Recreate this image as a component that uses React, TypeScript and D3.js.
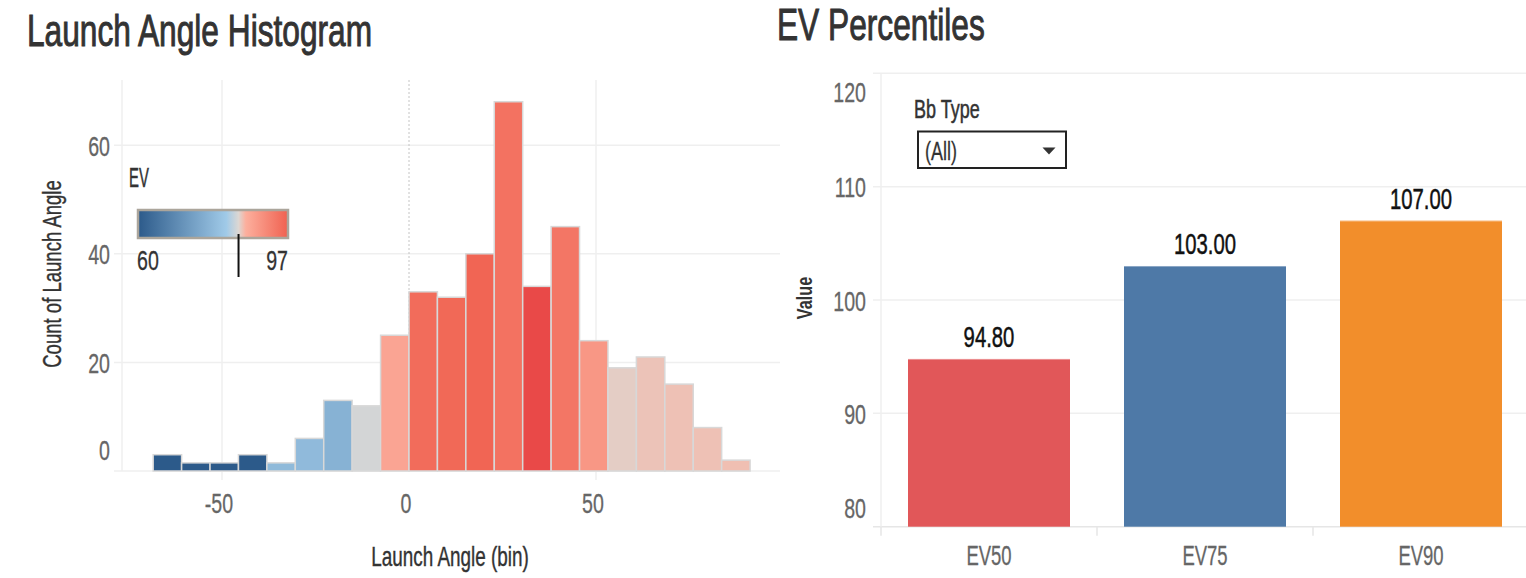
import { scaleLinear, scaleBand } from "d3";

// Launch angle histogram: bin starts (degrees), count per bin, mean EV per bin
const binStarts = [
  -68.4, -60.8, -53.2, -45.6, -38, -30.4, -22.8, -15.2, -7.6, 0, 7.6, 15.2,
  22.8, 30.4, 38, 45.6, 53.2, 60.8, 68.4, 76, 83.6,
];
const binWidth = 7.6;
const counts = [
  3, 1.5, 1.5, 3, 1.5, 6, 13, 12, 25, 33, 32, 40, 68, 34, 45, 24, 19, 21, 16,
  8, 2,
];
const meanEV = [
  59, 59, 59, 59, 78.6, 78.7, 77.1, 84.35, 88, 95.5, 96, 96.5, 94.7, 99.5,
  94.2, 89.8, 85.25, 85.7, 85.8, 85.8, 85.9,
];
const histXTicks = [-50, 0, 50];
const histYTicks = [0, 20, 40, 60];
const evLegendRange = [60, 97];
const evMarker = 84.8;

// EV percentiles
const pctNames = ["EV50", "EV75", "EV90"];
const pctValues = [94.8, 103.0, 107.0];
const pctColors = ["#e15759", "#4e79a7", "#f28e2b"];
const pctYTicks = [80, 90, 100, 110, 120];

const FONT = "'Liberation Sans', Arial, sans-serif";
const GRID = "#efefef";

// diverging EV colour ramp (blue -> grey -> red)
const evStops = [60, 81.8, 84.8, 86.6, 97, 100];
const evColors = ["#2c5a8a", "#a0cae8", "#dcd7d3", "#fcaf9d", "#f06150", "#e84446"];
const evColor = scaleLinear<string>().domain(evStops).range(evColors).clamp(true);

function Label({
  x,
  y,
  size,
  anchor = "start",
  weight = 400,
  fill = "#333",
  rotate = 0,
  k = 0.7,
  bold = 0,
  children,
}: any) {
  return (
    <g transform={`translate(${x},${y}) rotate(${rotate}) scale(${k},1)`}>
      <text
        fontFamily={FONT}
        fontSize={size}
        fontWeight={weight}
        fill={fill}
        stroke={bold ? fill : "none"}
        strokeWidth={bold}
        textAnchor={anchor}
      >
        {children}
      </text>
    </g>
  );
}

function Histogram() {
  const left = 122;
  const right = 780;
  const top = 80;
  const bottom = 471;
  const x = scaleLinear().domain([-50, 50]).range([222, 596]);
  const y = scaleLinear().domain([0, 72]).range([bottom, top]);
  const lx = scaleLinear().domain(evLegendRange).range([138, 288]);

  const gradStops = evStops
    .map((d, i) => ({ d, c: evColors[i] }))
    .filter((s) => s.d >= evLegendRange[0] && s.d <= evLegendRange[1]);

  return (
    <g>
      <Label x={27} y={46} size={44} k={0.72} bold={1}>
        Launch Angle Histogram
      </Label>

      {/* grid */}
      {histYTicks.map((t) => (
        <line key={t} x1={114} x2={right} y1={y(t)} y2={y(t)} stroke={GRID} strokeWidth={1.5} />
      ))}
      <line x1={left} x2={left} y1={top} y2={bottom} stroke={GRID} strokeWidth={1.5} />
      {histXTicks
        .filter((t) => t !== 0)
        .map((t) => (
          <line key={t} x1={x(t)} x2={x(t)} y1={top} y2={bottom + 9} stroke={GRID} strokeWidth={1.5} />
        ))}
      <line x1={x(0)} x2={x(0)} y1={top} y2={bottom} stroke="#c4c4c4" strokeDasharray="2,2" />

      {/* bars */}
      {binStarts.map((b, i) => (
        <rect
          key={b}
          x={x(b)}
          width={x(b + binWidth) - x(b)}
          y={y(counts[i])}
          height={bottom - y(counts[i])}
          fill={evColor(meanEV[i])}
          stroke="#d8d8d8"
          strokeWidth={1.5}
        />
      ))}

      {/* axes labels */}
      {histYTicks.map((t) => (
        <Label key={t} x={110} y={t === 0 ? 460 : y(t) + 10.5} size={28} anchor="end" fill="#666" bold={0.3}>
          {t}
        </Label>
      ))}
      {histXTicks.map((t) => (
        <Label key={t} x={x(t) - 3} y={513} size={28} anchor="middle" fill="#666" bold={0.3}>
          {t}
        </Label>
      ))}
      <Label x={450} y={566} size={27} k={0.7} anchor="middle" bold={0.4}>
        Launch Angle (bin)
      </Label>
      <Label x={61} y={274} size={26.5} k={0.7} anchor="middle" rotate={-90} bold={0.4}>
        Count of Launch Angle
      </Label>

      {/* EV legend */}
      <defs>
        <linearGradient id="evGrad" x1="0" x2="1" y1="0" y2="0">
          {gradStops.map((s) => (
            <stop
              key={s.d}
              offset={(s.d - evLegendRange[0]) / (evLegendRange[1] - evLegendRange[0])}
              stopColor={s.c}
            />
          ))}
        </linearGradient>
      </defs>
      <Label x={129} y={187} size={27} k={0.55} bold={0.5}>
        EV
      </Label>
      <rect
        x={lx(evLegendRange[0])}
        y={210}
        width={lx(evLegendRange[1]) - lx(evLegendRange[0])}
        height={28}
        fill="url(#evGrad)"
        stroke="#aba59b"
        strokeWidth={2.5}
      />
      <line x1={lx(evMarker)} x2={lx(evMarker)} y1={234} y2={277} stroke="#111" strokeWidth={2} />
      <Label x={lx(evLegendRange[0]) - 1} y={270} size={28} fill="#333" bold={0.3}>
        {evLegendRange[0]}
      </Label>
      <Label x={lx(evLegendRange[1])} y={270} size={28} anchor="end" fill="#333" bold={0.3}>
        {evLegendRange[1]}
      </Label>
    </g>
  );
}

function Percentiles() {
  const left = 881;
  const right = 1529;
  const top = 73.3;
  const bottom = 526.7;
  const x = scaleBand<string>().domain(pctNames).range([left, right]).paddingInner(0.25).paddingOuter(0.125);
  const y = scaleLinear().domain([80, 120]).range([bottom, top]);
  const step = x.step();

  return (
    <g>
      <Label x={777} y={40} size={44} k={0.72} bold={1}>
        EV Percentiles
      </Label>

      {pctYTicks.map((t) => (
        <line key={t} x1={873} x2={1526} y1={y(t)} y2={y(t)} stroke={t === 80 ? "#e6e6e6" : GRID} strokeWidth={1.5} />
      ))}
      <line x1={left} x2={left} y1={top} y2={bottom} stroke={GRID} strokeWidth={1.5} />
      {pctNames.map((n) => (
        <line
          key={n}
          x1={(x(n) as number) - (step * 0.25) / 2}
          x2={(x(n) as number) - (step * 0.25) / 2}
          y1={bottom}
          y2={bottom + 9}
          stroke="#e6e6e6"
          strokeWidth={1.5}
        />
      ))}

      {pctNames.map((n, i) => (
        <g key={n}>
          <rect
            x={x(n)}
            width={x.bandwidth()}
            y={y(pctValues[i])}
            height={bottom - y(pctValues[i])}
            fill={pctColors[i]}
          />
          <line
            x1={x(n)}
            x2={(x(n) as number) + x.bandwidth()}
            y1={y(pctValues[i]) + 0.5}
            y2={y(pctValues[i]) + 0.5}
            stroke="#fff"
            strokeOpacity={0.35}
          />
          <Label
            x={(x(n) as number) + x.bandwidth() / 2}
            y={y(pctValues[i]) - 12}
            size={29}
            k={0.7}
            anchor="middle"
            fill="#111"
            bold={0.5}
          >
            {pctValues[i].toFixed(2)}
          </Label>
          <Label x={(x(n) as number) + x.bandwidth() / 2} y={565} size={28} k={0.66} anchor="middle" fill="#666" bold={0.3}>
            {n}
          </Label>
        </g>
      ))}

      {pctYTicks.map((t) => (
        <Label
          key={t}
          x={866}
          y={t === 120 ? 101.7 : t === 80 ? 518 : y(t) + 10.5}
          size={28}
          anchor="end"
          fill="#666"
          bold={0.3}
        >
          {t}
        </Label>
      ))}
      <Label x={812} y={298} size={22.5} k={0.72} weight={700} anchor="middle" rotate={-90}>
        Value
      </Label>

      {/* Bb Type filter */}
      <Label x={914} y={117.5} size={25} k={0.72} bold={0.5}>
        Bb Type
      </Label>
      <rect x={918} y={131.5} width={148} height={36.5} fill="#fff" stroke="#222" strokeWidth={2} />
      <Label x={925} y={160} size={25} k={0.72} bold={0.3}>
        (All)
      </Label>
      <path d="M1042.5,147.5 L1055.5,147.5 L1049,154.5 Z" fill="#333" />
    </g>
  );
}

export default function App() {
  return (
    <div>
      <style>{`body{margin:0}`}</style>
      <svg width={1526} height={578} style={{ display: "block", background: "#fff" }}>
        <Histogram />
        <Percentiles />
      </svg>
    </div>
  );
}
